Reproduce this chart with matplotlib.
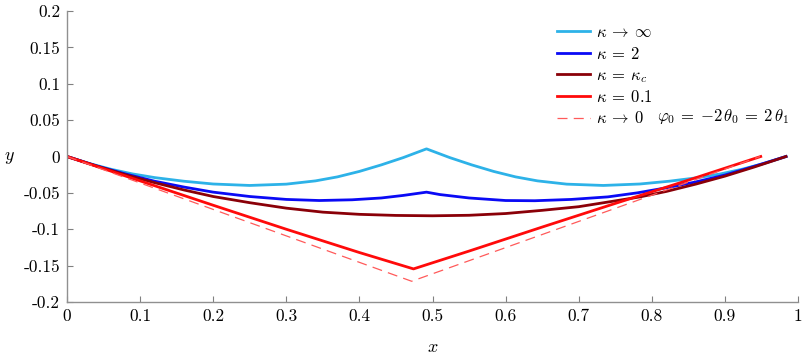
import matplotlib
matplotlib.use("Agg")
import matplotlib.pyplot as plt

plt.rcParams['mathtext.fontset'] = 'cm'
plt.rcParams['axes.unicode_minus'] = False

# kappa -> infinity
x_inf = [0, 0.03, 0.06, 0.09, 0.12, 0.16, 0.20, 0.25, 0.30, 0.34, 0.37, 0.40, 0.43, 0.46, 0.4918,
         0.5236, 0.5536, 0.5836, 0.6136, 0.6436, 0.6836, 0.7336, 0.7836, 0.8236, 0.8636, 0.8936,
         0.9236, 0.9536, 0.9836]
y_inf = [0, -0.0095, -0.0175, -0.024, -0.029, -0.034, -0.0378, -0.0398, -0.038, -0.0335, -0.028,
         -0.0205, -0.0115, -0.0015, 0.0105,
         -0.0015, -0.0115, -0.0205, -0.028, -0.0335, -0.038, -0.0398, -0.0378, -0.034, -0.029,
         -0.024, -0.0175, -0.0095, 0]

# kappa = 2
x_k2 = [0, 0.04, 0.08, 0.12, 0.16, 0.20, 0.25, 0.30, 0.345, 0.39, 0.43, 0.46, 0.4918,
        0.51, 0.55, 0.60, 0.64, 0.69, 0.74, 0.78, 0.82, 0.86, 0.90, 0.94, 0.9836]
y_k2 = [0, -0.0128, -0.024, -0.034, -0.042, -0.049, -0.055, -0.059, -0.0605, -0.0595, -0.057, -0.0535, -0.049,
        -0.0523, -0.057, -0.0605, -0.0608, -0.059, -0.0555, -0.050, -0.043, -0.035, -0.0255, -0.0135, 0]

# kappa = kappa_c
x_kc = [0, 0.04, 0.08, 0.12, 0.16, 0.20, 0.25, 0.30, 0.35, 0.40, 0.45, 0.50, 0.55, 0.60, 0.65,
        0.70, 0.75, 0.784, 0.82, 0.86, 0.90, 0.94, 0.9836]
y_kc = [0, -0.013, -0.025, -0.036, -0.046, -0.055, -0.0635, -0.071, -0.0765, -0.0795, -0.081, -0.0815,
        -0.0808, -0.0784, -0.074, -0.069, -0.061, -0.0555, -0.048, -0.038, -0.027, -0.0145, 0]

# kappa = 0.1
x_k01 = [0, 0.1, 0.2, 0.3, 0.4, 0.474, 0.55, 0.65, 0.75, 0.85, 0.949]
y_k01 = [0, -0.0335, -0.067, -0.100, -0.132, -0.1545, -0.130, -0.097, -0.0645, -0.0325, 0]

# kappa -> 0
x_k0 = [0, 0.4715, 0.948]
y_k0 = [0, -0.1715, 0]

xticks = [0, 0.1, 0.2, 0.3, 0.4, 0.5, 0.6, 0.7, 0.8, 0.9, 1]
xticklabels = ['0', '0.1', '0.2', '0.3', '0.4', '0.5', '0.6', '0.7', '0.8', '0.9', '1']
yticks = [-0.2, -0.15, -0.1, -0.05, 0, 0.05, 0.1, 0.15, 0.2]
yticklabels = ['-0.2', '-0.15', '-0.1', '-0.05', '0', '0.05', '0.1', '0.15', '0.2']

fig = plt.figure(figsize=(8.04, 3.62), dpi=100)
ax = fig.add_axes([67/804, 60/362, 731/804, 291/362])

ax.plot(x_inf, y_inf, color='#2db2e8', lw=2.0, label=r'$\kappa\:\to\:\infty$')
ax.plot(x_k2, y_k2, color='#0a0af5', lw=2.0, label=r'$\kappa\:=\:2$')
ax.plot(x_kc, y_kc, color='#8a0008', lw=2.0, label=r'$\kappa\:=\:\kappa_c$')
ax.plot(x_k01, y_k01, color='#ff0a0a', lw=2.0, label=r'$\kappa\:=\:0.1$')
ax.plot(x_k0, y_k0, color='#ff5a5a', lw=0.9, ls=(0, (8, 5)), label=r'$\kappa\:\to\:0$')

ax.set_xlim(0, 1)
ax.set_ylim(-0.2, 0.2)
ax.set_xticks(xticks)
ax.set_xticklabels(xticklabels, family='cmr10', fontsize=12.5)
ax.set_yticks(yticks)
ax.set_yticklabels(yticklabels, family='cmr10', fontsize=12.5)
ax.tick_params(direction='in', length=4, width=0.8, color='#808080', pad=5)

for s in ['top', 'right']:
    ax.spines[s].set_visible(False)
for s in ['left', 'bottom']:
    ax.spines[s].set_color('#909090')
    ax.spines[s].set_linewidth(1.0)

ax.set_xlabel(r'$x$', fontsize=13, labelpad=10)
ax.set_ylabel(r'$y$', fontsize=13, rotation=0, labelpad=10, va='center')

leg = ax.legend(loc='upper left', bbox_to_anchor=(0.670, 0.958), frameon=False, fontsize=12,
                handlelength=1.98, handletextpad=0.36, labelspacing=0.2, borderaxespad=0,
                borderpad=0)
fig.text(657/804, 1 - 117/362, r'$\varphi_0\:=\:-2\,\theta_0\:=\:2\,\theta_1$', fontsize=12,
         va='center', ha='left')

fig.savefig('out.png', dpi=100)
